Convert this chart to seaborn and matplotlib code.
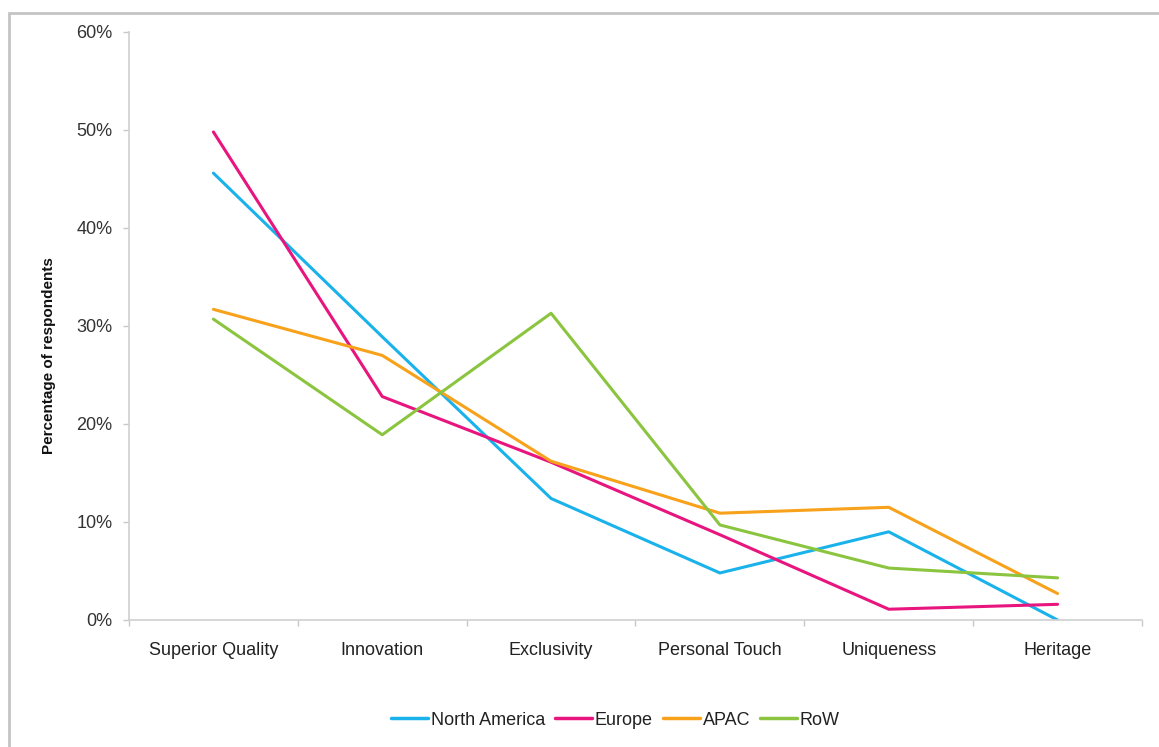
import matplotlib
matplotlib.use("Agg")
import matplotlib.pyplot as plt
from matplotlib.patches import Rectangle
from matplotlib.ticker import FixedLocator, FuncFormatter
import numpy as np
import pandas as pd
import seaborn as sns

# Attributes rated by respondents, per region (percent of respondents)
attributes = ["Superior Quality", "Innovation", "Exclusivity",
              "Personal Touch", "Uniqueness", "Heritage"]
north_america = [45.6, 28.9, 12.4, 4.8, 9.0, 0.0]
europe = [49.8, 22.8, 16.1, 8.7, 1.1, 1.6]
apac = [31.7, 27.0, 16.2, 10.9, 11.5, 2.7]
row = [30.7, 18.9, 31.3, 9.7, 5.3, 4.3]

regions = ["North America", "Europe", "APAC", "RoW"]
series = [north_america, europe, apac, row]
palette = ["#19b2ea", "#e8157f", "#f8a11b", "#8bc53f"]

records = []
for region, values in zip(regions, series):
    for i, v in enumerate(values):
        records.append({"pos": i, "attribute": attributes[i],
                        "region": region, "value": v})
df = pd.DataFrame(records)

sns.set_theme(style="white")
plt.rcParams["font.family"] = ["Liberation Sans", "DejaVu Sans"]

fig = plt.figure(figsize=(11.59, 7.47), dpi=100)
ax = fig.add_axes([129 / 1159, 1 - 620 / 747, (1142 - 129) / 1159, (620 - 32) / 747])

sns.lineplot(data=df, x="pos", y="value", hue="region", hue_order=regions,
             palette=palette, linewidth=2.2, ax=ax, legend=False,
             estimator=None, sort=False)

ax.set_xlim(-0.5, len(attributes) - 0.5)
ax.set_ylim(0, 60)

# axis styling
for side in ["top", "right"]:
    ax.spines[side].set_visible(False)
for side in ["left", "bottom"]:
    ax.spines[side].set_color("#d0d0d0")
    ax.spines[side].set_linewidth(1.2)

ax.set_yticks(np.arange(0, 61, 10))
ax.yaxis.set_major_formatter(FuncFormatter(lambda v, _: f"{v:.0f}%"))
ax.tick_params(axis="y", which="major", direction="out", length=4, width=1,
               color="#c8c8c8", labelsize=13, labelcolor="#333333", pad=8,
               left=True)

ax.set_xticks(range(len(attributes)))
ax.set_xticklabels(attributes)
ax.xaxis.set_minor_locator(FixedLocator(np.arange(-0.5, len(attributes), 1.0)))
ax.tick_params(axis="x", which="major", length=0, labelsize=13,
               labelcolor="#222222", pad=15.5)
ax.tick_params(axis="x", which="minor", direction="out", length=4, width=1,
               color="#c8c8c8", bottom=True)

ax.set_xlabel("")
ax.set_ylabel("Percentage of respondents", fontsize=11, fontweight="bold",
              color="#111111")
ax.yaxis.set_label_coords(-73 / 1013, 0.449)
ax.grid(False)

# legend along the bottom
handles = [plt.Line2D([], [], color=c, linewidth=2.5) for c in palette]
fig.legend(handles, regions, loc="center", bbox_to_anchor=(0.531, 0.036),
           ncol=4, frameon=False, fontsize=13, handlelength=2.05,
           handletextpad=0.15, columnspacing=0.55, labelcolor="#222222")

# outer frame (left and top edges)
fig.patches.append(Rectangle((9 / 1159, -0.1), 1.2, 1 - 13 / 747 + 0.1,
                             transform=fig.transFigure, fill=False,
                             edgecolor="#c4c4c4", linewidth=2.0, zorder=0))

fig.savefig("out.png", dpi=100, facecolor="white")
